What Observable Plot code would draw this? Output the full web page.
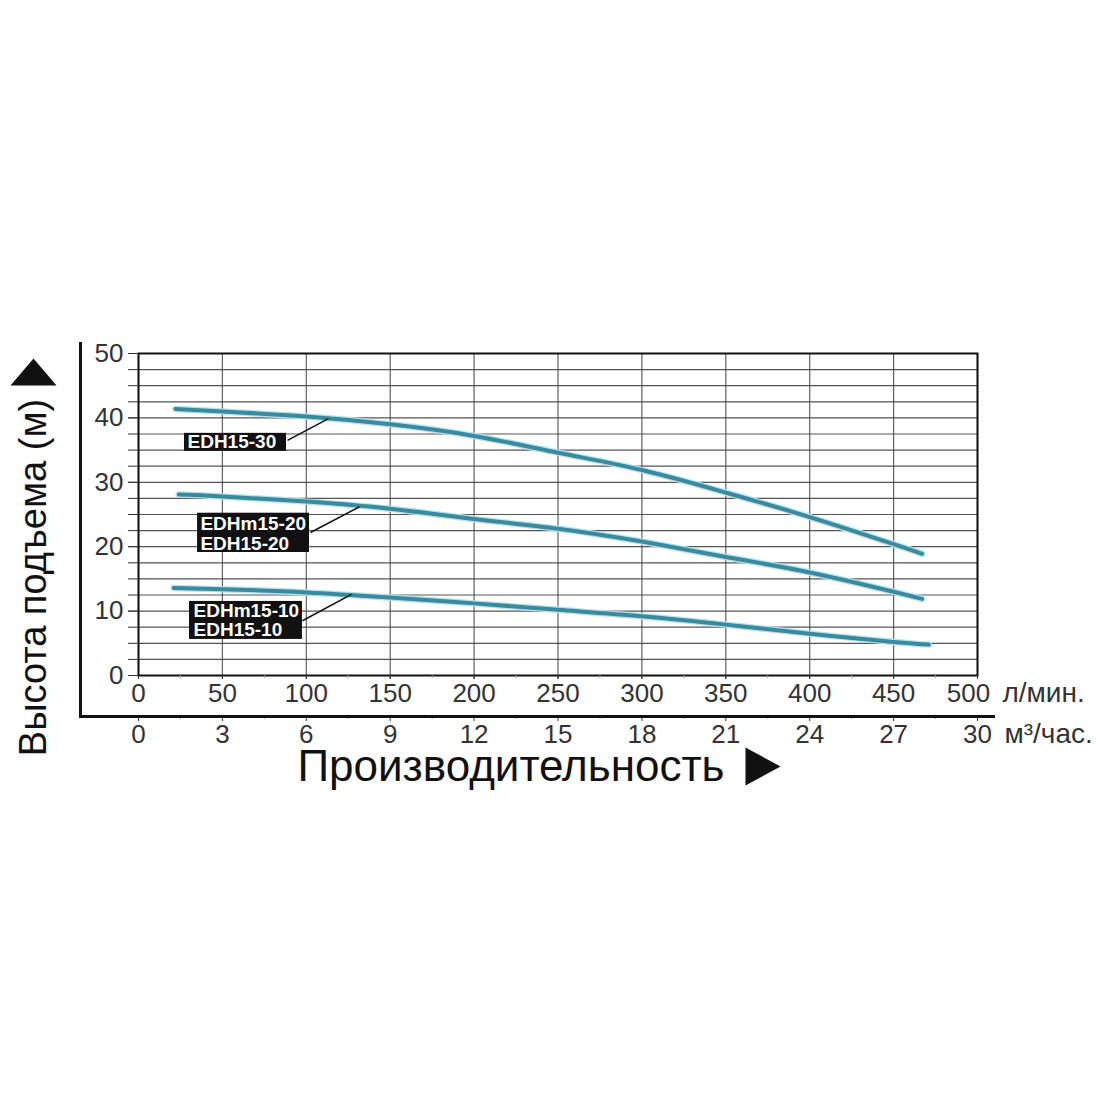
<!DOCTYPE html>
<html lang="ru">
<head>
    <meta charset="UTF-8">
    <script src="https://cdn.jsdelivr.net/npm/d3@7"></script>
    <script src="https://cdn.jsdelivr.net/npm/@observablehq/plot@0.6"></script>
    <title>EDH15</title>
    <style>
        body { margin: 0; background: white; }
    </style>
</head>
<body>
<div id="plot"></div>
<script>
    // pump curves: flow (l/min) -> head (m)
    const flow30 = [22, 50, 100, 150, 200, 250, 300, 350, 400, 450, 467];
    const head30 = [41.4, 41.0, 40.2, 39.0, 37.2, 34.6, 31.9, 28.4, 24.6, 20.4, 18.9];
    const flow20 = [24, 50, 100, 150, 200, 250, 300, 350, 400, 450, 467];
    const head20 = [28.1, 27.8, 27.0, 25.9, 24.3, 22.8, 20.8, 18.4, 16.0, 13.0, 11.9];
    const flow10 = [21, 50, 100, 150, 200, 250, 300, 350, 400, 450, 471];
    const head10 = [13.6, 13.4, 12.9, 12.1, 11.2, 10.2, 9.2, 7.9, 6.5, 5.2, 4.8];

    const xTicks = [0, 50, 100, 150, 200, 250, 300, 350, 400, 450, 500];
    const xLabels = [0, 50, 100, 150, 200, 250, 300, 350, 400, 450];
    const xLast = [500];
    const xMinor = [25, 75, 125, 175, 225, 275, 325, 375, 425, 475];
    const m3Labels = ["0", "3", "6", "9", "12", "15", "18", "21", "24", "27", "30"];
    const yLabels = [0, 10, 20, 30, 40, 50];
    const yGrid = [0, 2.5, 5, 7.5, 10, 12.5, 15, 17.5, 20, 22.5, 25, 27.5, 30, 32.5, 35, 37.5, 40, 42.5, 45, 47.5, 50];

    // label boxes and leaders (data units)
    const boxes = [
        {x1: 27.4, x2: 88.2, y1: 34.8, y2: 37.6},
        {x1: 35.2, x2: 101.9, y1: 19.1, y2: 25.2},
        {x1: 30.4, x2: 97.7, y1: 5.6, y2: 11.5}
    ];
    const labelLines = [
        {x: 29.2, y: 36.2, text: "EDH15-30"},
        {x: 36.9, y: 23.6, text: "EDHm15-20"},
        {x: 36.9, y: 20.5, text: "EDH15-20"},
        {x: 32.8, y: 10.1, text: "EDHm15-10"},
        {x: 32.8, y: 7.1, text: "EDH15-10"}
    ];
    const leaders = [
        {x1: 88.8, y1: 36.5, x2: 113.2, y2: 39.9},
        {x1: 102.5, y1: 22.2, x2: 131.7, y2: 26.2},
        {x1: 97.7, y1: 8.5, x2: 126.9, y2: 12.6}
    ];

    const series = [
        {name: "EDH15-30", flow: flow30, head: head30},
        {name: "EDH15-20", flow: flow20, head: head20},
        {name: "EDH15-10", flow: flow10, head: head10}
    ];
    const rows = series.flatMap(s => s.flow.map((f, i) => ({name: s.name, flow: f, head: s.head[i]})));

    // flat wide arrow heads
    const arrowUp = {draw(ctx) { ctx.moveTo(-23, 13); ctx.lineTo(0, -14); ctx.lineTo(23, 13); ctx.closePath(); }};
    const arrowRight = {draw(ctx) { ctx.moveTo(-17, -19); ctx.lineTo(18, 0); ctx.lineTo(-17, 19); ctx.closePath(); }};

    const tickColor = "#333";
    const tickFont = 26;

    const plot = Plot.plot({
        width: 1100,
        height: 1100,
        marginLeft: 138,
        marginRight: 123,
        marginTop: 353,
        marginBottom: 425,
        style: {background: "white", fontFamily: "Liberation Sans, Arial, sans-serif", overflow: "visible"},
        x: {domain: [0, 500], axis: null},
        y: {domain: [0, 50], axis: null},
        marks: [
            Plot.gridY(yGrid, {stroke: "#2a2a2a", strokeOpacity: 0.8, strokeWidth: 1.2}),
            Plot.gridX(xTicks, {stroke: "#444", strokeOpacity: 0.85, strokeWidth: 1.2}),
            Plot.line(rows, {x: "flow", y: "head", z: "name", stroke: "#b4e3ee", strokeWidth: 6.5, curve: "natural"}),
            Plot.line(rows, {x: "flow", y: "head", z: "name", stroke: "#3a899c", strokeWidth: 4, curve: "natural"}),
            Plot.frame({stroke: "#111", strokeWidth: 2}),
            Plot.link(leaders, {x1: "x1", y1: "y1", x2: "x2", y2: "y2", stroke: "#111", strokeWidth: 1.5}),
            Plot.rect(boxes, {x1: "x1", x2: "x2", y1: "y1", y2: "y2", fill: "#111"}),
            Plot.text(labelLines, {x: "x", y: "y", text: "text", fill: "white", fontWeight: "bold", fontSize: 19, textAnchor: "start"}),

            // y axis
            Plot.axisY(yGrid, {tickSize: 10, tickFormat: () => "", stroke: tickColor, label: null}),
            Plot.axisY(yLabels, {tickSize: 10, tickPadding: 5, fontSize: tickFont, fill: tickColor, stroke: tickColor, label: null}),

            // l/min axis
            Plot.axisX(xTicks, {tickSize: 4, tickFormat: () => "", stroke: tickColor, label: null}),
            Plot.axisX(xLabels, {tickSize: 4, tickPadding: 4, fontSize: tickFont, fill: tickColor, stroke: tickColor, label: null}),
            Plot.text(xLast, {x: d => d, frameAnchor: "bottom", dx: -9, dy: 8, lineAnchor: "top", fontSize: tickFont, fill: tickColor}),
            Plot.axisX(xMinor, {tickSize: 3, tickFormat: () => "", stroke: "#999", label: null}),

            // m3/h axis under the thick line
            Plot.axisX(xTicks, {dy: 41, tickSize: 5, tickPadding: 3, fontSize: tickFont, fill: tickColor, stroke: tickColor,
                tickFormat: (d, i) => m3Labels[i], label: null}),
            Plot.axisX(xMinor, {dy: 41, tickSize: 3, tickFormat: () => "", stroke: "#999", label: null}),

            // thick L-shaped frame
            Plot.frame({anchor: "left", insetLeft: -58, insetTop: -10, insetBottom: -41, stroke: "#111", strokeWidth: 3}),
            Plot.frame({anchor: "bottom", insetBottom: -41, insetLeft: -58, insetRight: -16, stroke: "#111", strokeWidth: 3}),

            // units
            Plot.text(["л/мин."], {frameAnchor: "bottom-right", dx: 25, dy: 18, textAnchor: "start", lineAnchor: "middle", fontSize: 28, fill: tickColor}),
            Plot.text(["м³/час."], {frameAnchor: "bottom-right", dx: 27, dy: 59, textAnchor: "start", lineAnchor: "middle", fontSize: 28, fill: tickColor}),

            // titles and arrows
            Plot.text(["Высота подъема (м)"], {frameAnchor: "left", dx: -105, dy: 63, rotate: -90, fontSize: 38, fill: "#111",
                textAnchor: "middle", lineAnchor: "middle"}),
            Plot.text(["Производительность"], {frameAnchor: "bottom", dx: -47, dy: 91, fontSize: 44, fill: "#111",
                textAnchor: "middle", lineAnchor: "middle"}),
            Plot.dot([0], {frameAnchor: "top-left", dx: -105, dy: 19, symbol: arrowUp, fill: "#111", stroke: null}),
            Plot.dot([0], {frameAnchor: "top-left", dx: 624, dy: 413, symbol: arrowRight, fill: "#111", stroke: null})
        ]
    });
    document.querySelector("#plot").append(plot);
</script>
</body>
</html>
